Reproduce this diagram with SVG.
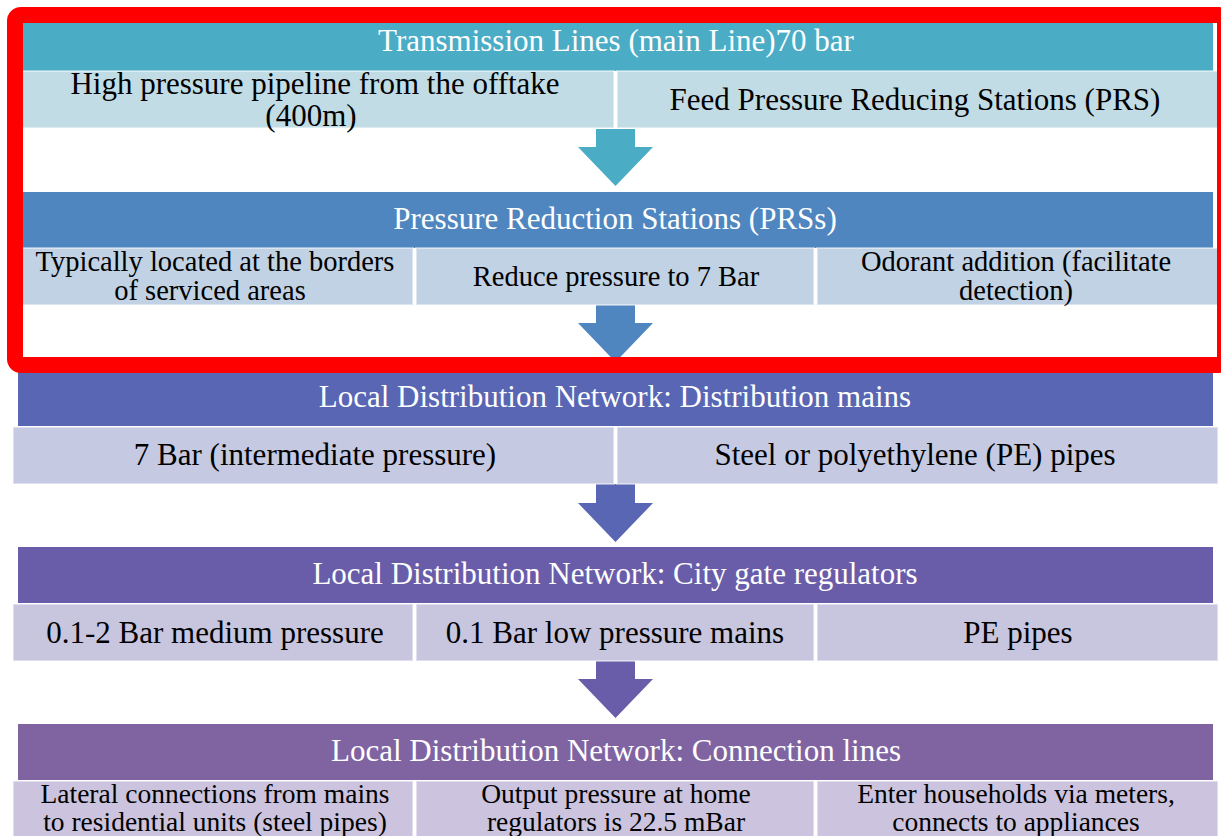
<svg xmlns="http://www.w3.org/2000/svg" width="1221" height="836" viewBox="0 0 1221 836">
<style>
text{font-family:'Liberation Serif','Times New Roman',serif;font-size:31px;text-anchor:middle;fill:#000}
.h text{fill:#fff}
.s2{font-size:28.5px}
.s5{font-size:27.5px}
.sub{stroke:#fff;stroke-opacity:.45;stroke-width:2}
</style>
<rect width="1221" height="836" fill="#fff"/>
<g id="connectors">
<polygon fill="#4BACC6" points="596,129 635,129 635,147 653,147 615.5,186 578,147 596,147"/>
<polygon fill="#4F86BF" points="596,305 635,305 635,323 653,323 615.5,362 578,323 596,323"/>
<polygon fill="#5866B3" points="596,484 635,484 635,503 653,503 615.5,542 578,503 596,503"/>
<polygon fill="#695DAA" points="596,661 635,661 635,679 653,679 615.5,718 578,679 596,679"/>
</g>
<g id="stage1">
<g class="h"><rect x="18" y="15" width="1195" height="56" fill="#4BACC6"/><text x="616" y="51">Transmission Lines (main Line)70 bar</text></g>
<rect class="sub" x="13" y="71" width="601" height="57" fill="#C2DCE6"/>
<rect class="sub" x="617" y="71" width="601" height="57" fill="#C2DCE6"/>
<text x="315" y="94">High pressure pipeline from the offtake</text>
<text x="311" y="126">(400m)</text>
<text x="915" y="110" font-size="30.5">Feed Pressure Reducing Stations (PRS)</text>
</g>
<g id="stage2">
<g class="h"><rect x="18" y="192" width="1195" height="56" fill="#4F86BF"/><text x="615" y="229">Pressure Reduction Stations (PRSs)</text></g>
<rect class="sub" x="13" y="248" width="400" height="57" fill="#C1D2E4"/>
<rect class="sub" x="416" y="248" width="398" height="57" fill="#C1D2E4"/>
<rect class="sub" x="817" y="248" width="401" height="57" fill="#C1D2E4"/>
<text class="s2" x="215" y="271">Typically located at the borders</text>
<text class="s2" x="210" y="300">of serviced areas</text>
<text class="s2" x="616" y="286">Reduce pressure to 7 Bar</text>
<text class="s2" x="1016" y="271">Odorant addition (facilitate</text>
<text class="s2" x="1016" y="300">detection)</text>
</g>
<g id="stage3">
<g class="h"><rect x="18" y="370" width="1195" height="56" fill="#5866B3"/><text x="615" y="407">Local Distribution Network: Distribution mains</text></g>
<rect class="sub" x="13" y="427" width="601" height="57" fill="#C5C9E2"/>
<rect class="sub" x="617" y="427" width="601" height="57" fill="#C5C9E2"/>
<text x="315" y="465">7 Bar (intermediate pressure)</text>
<text x="915" y="465">Steel or polyethylene (PE) pipes</text>
</g>
<g id="stage4">
<g class="h"><rect x="18" y="547" width="1195" height="56" fill="#695DAA"/><text x="615" y="584">Local Distribution Network: City gate regulators</text></g>
<rect class="sub" x="13" y="604" width="400" height="57" fill="#C8C5DF"/>
<rect class="sub" x="416" y="604" width="398" height="57" fill="#C8C5DF"/>
<rect class="sub" x="817" y="604" width="401" height="57" fill="#C8C5DF"/>
<text x="215" y="643">0.1-2 Bar medium pressure</text>
<text x="615" y="643">0.1 Bar low pressure mains</text>
<text x="1018" y="643">PE pipes</text>
</g>
<g id="stage5">
<g class="h"><rect x="18" y="724" width="1195" height="56" fill="#8064A2"/><text x="616" y="761">Local Distribution Network: Connection lines</text></g>
<rect class="sub" x="13" y="781" width="400" height="60" fill="#CCC4DE"/>
<rect class="sub" x="416" y="781" width="398" height="60" fill="#CCC4DE"/>
<rect class="sub" x="817" y="781" width="401" height="60" fill="#CCC4DE"/>
<text class="s5" x="215" y="803">Lateral connections from mains</text>
<text class="s5" x="215" y="831">to residential units (steel pipes)</text>
<text class="s5" x="616" y="803">Output pressure at home</text>
<text class="s5" x="616" y="831">regulators is 22.5 mBar</text>
<text class="s5" x="1016" y="803">Enter households via meters,</text>
<text class="s5" x="1016" y="831">connects to appliances</text>
</g>
<g id="highlight">
<rect x="15" y="15" width="1210" height="350" rx="6" fill="none" stroke="#FF0000" stroke-width="16"/>
</g>
</svg>
